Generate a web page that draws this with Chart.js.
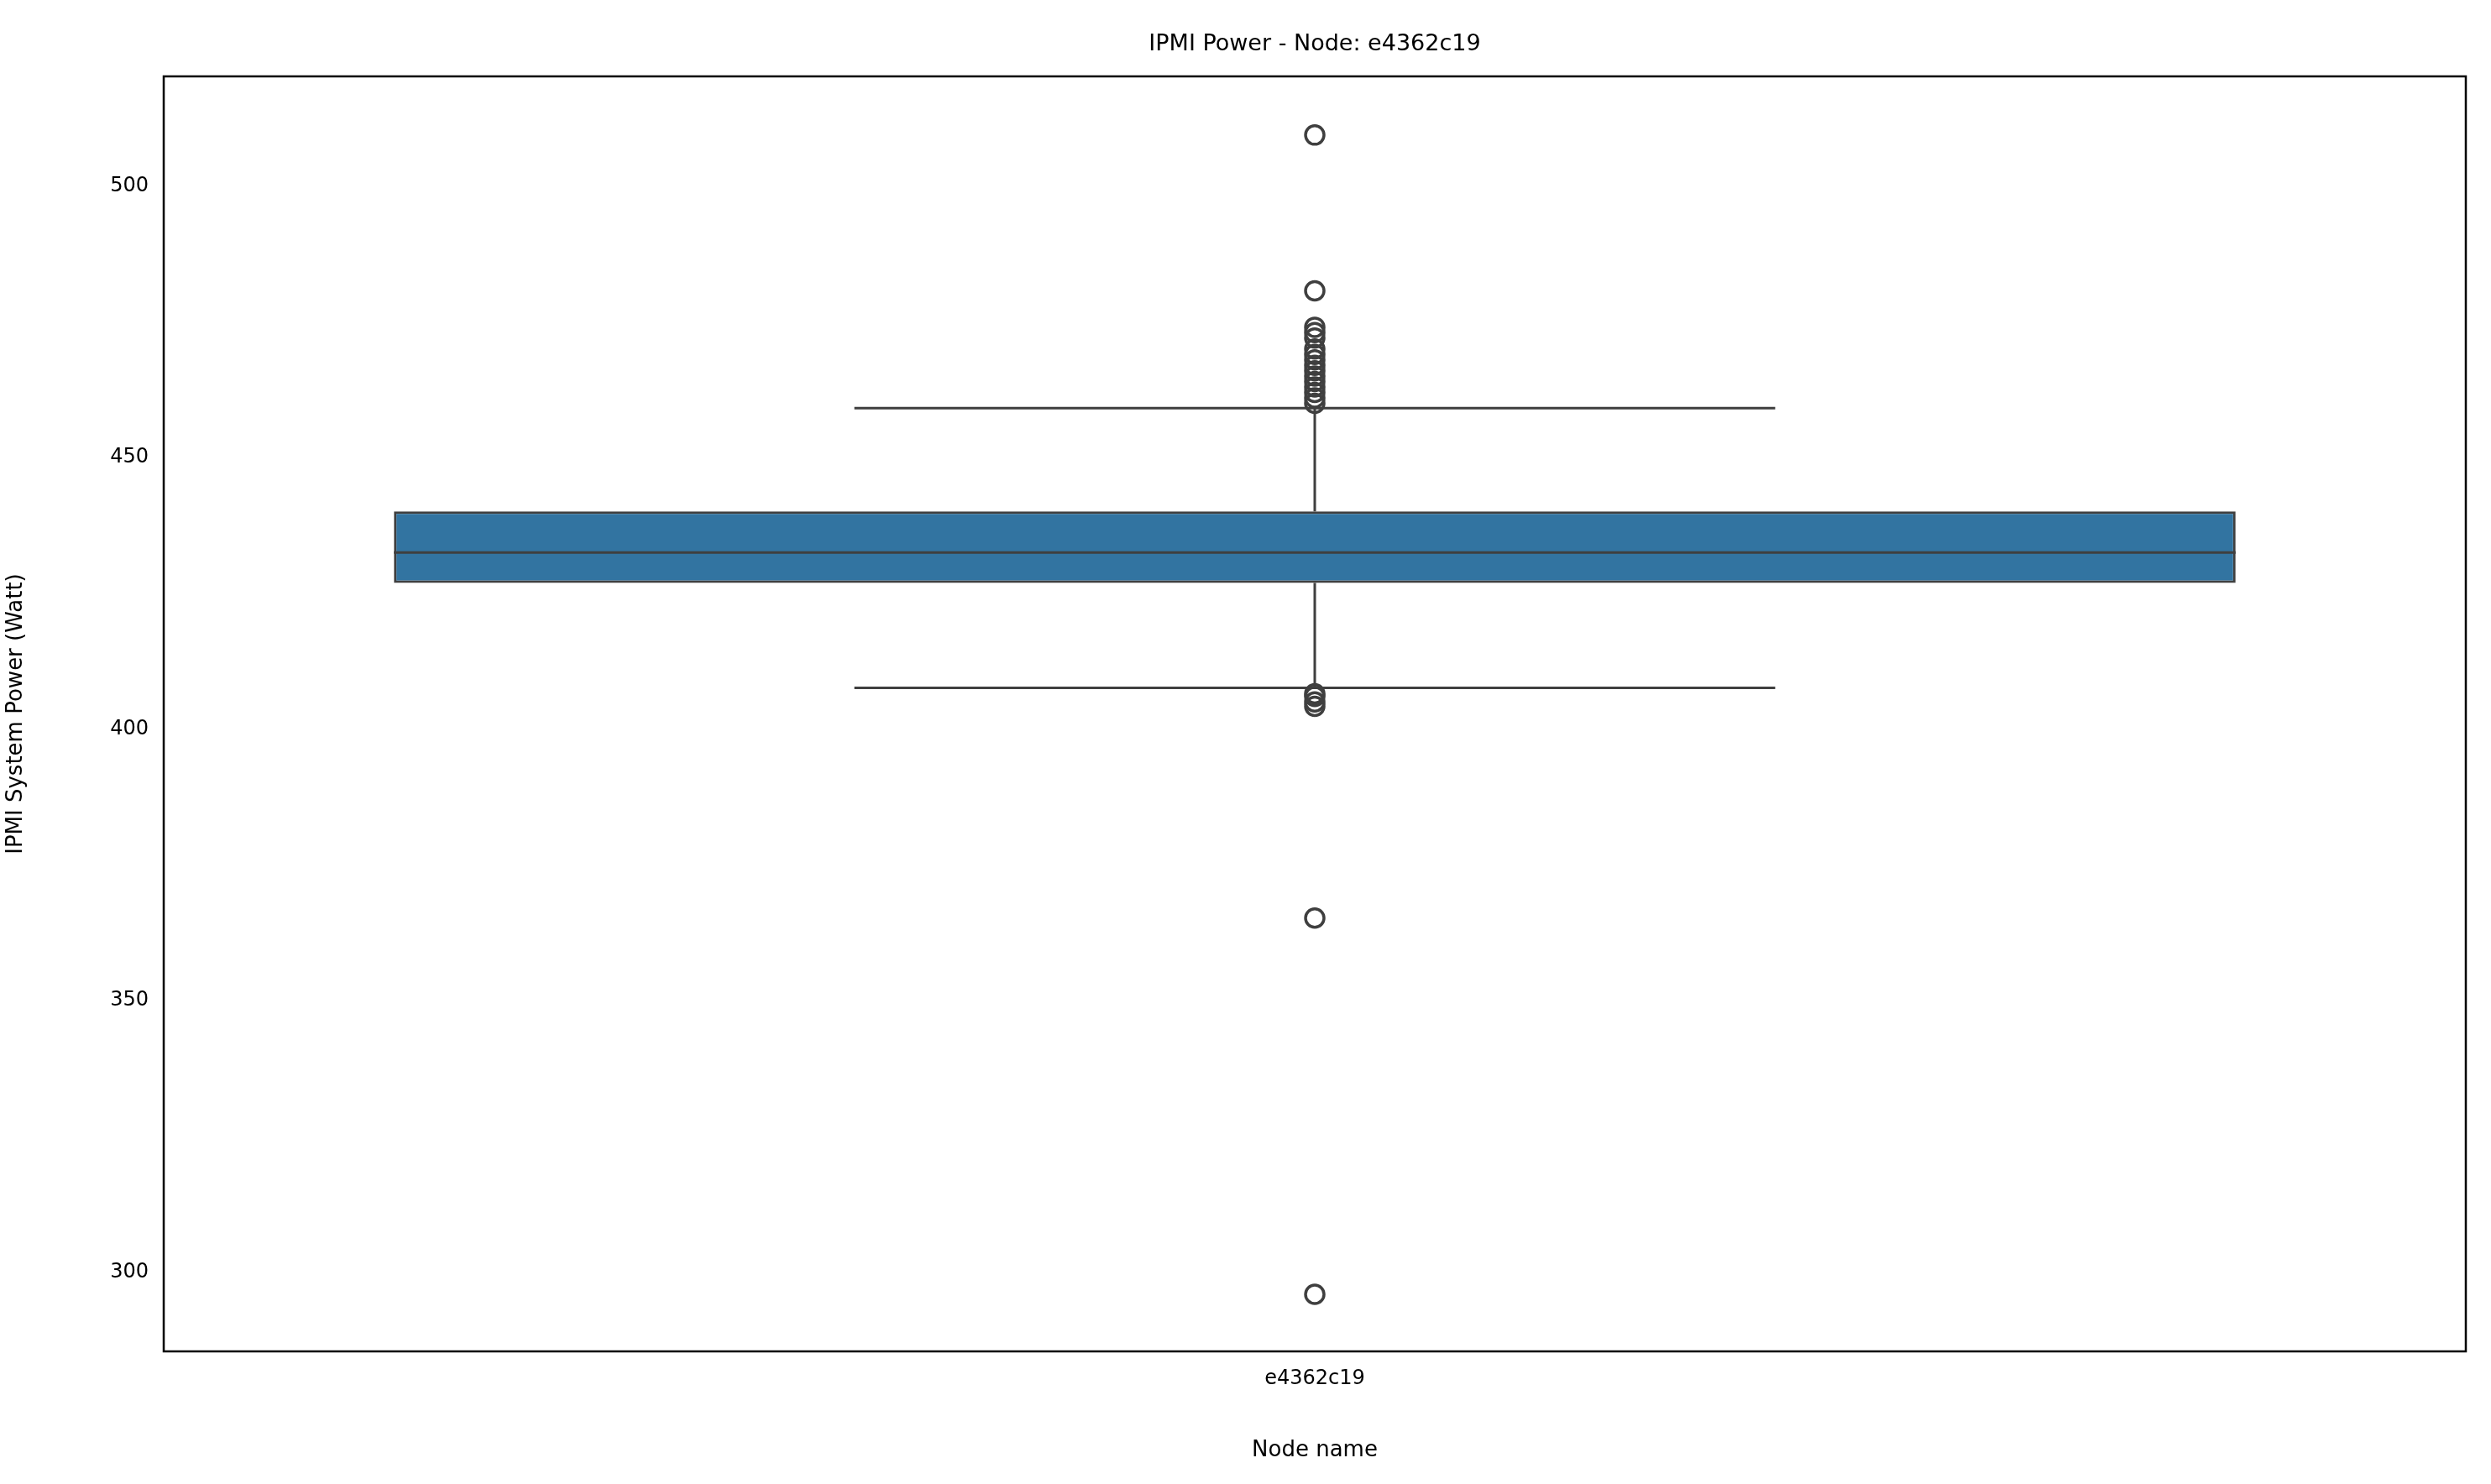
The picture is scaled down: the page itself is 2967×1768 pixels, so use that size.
<!DOCTYPE html>
<html><head><meta charset="utf-8">
<script src="https://cdn.jsdelivr.net/npm/chart.js@4/dist/chart.umd.min.js"></script>
<style>html,body{margin:0;padding:0;background:#fff}#w{width:2967px;height:1768px}</style>
</head><body><div id="w"><canvas id="c"></canvas></div>
<script>
const categories = ['e4362c19'];
const q1 = [426.9], median = [432.5], q3 = [440.1];
const whiskerLow = [407.6], whiskerHigh = [459.1];
const outliers = [509.4, 480.7, 474, 473, 472, 470, 469, 468, 467, 466, 465, 464, 463, 462, 461, 460, 406.5, 406, 405, 404.2, 365.2, 295.9];
const yTicks = [300, 350, 400, 450, 500];
const EDGE = '#3f3f3f';
const F = 'DejaVu Sans';

const boxPlugin = {
  id: 'box',
  afterDatasetsDraw(chart) {
    const ctx = chart.ctx, x = chart.scales.x, y = chart.scales.y, a = chart.chartArea;
    ctx.save();
    ctx.strokeStyle = EDGE; ctx.lineWidth = 3;
    categories.forEach((c, i) => {
      const cx = x.getPixelForValue(i);
      const bw = (a.right - a.left) / categories.length * 0.8;
      const cw = bw / 2;
      const yl = y.getPixelForValue(whiskerLow[i]), yh = y.getPixelForValue(whiskerHigh[i]);
      const yq1 = y.getPixelForValue(q1[i]), yq3 = y.getPixelForValue(q3[i]), ym = y.getPixelForValue(median[i]);
      ctx.beginPath();
      ctx.moveTo(cx, yq3); ctx.lineTo(cx, yh);
      ctx.moveTo(cx, yq1); ctx.lineTo(cx, yl);
      ctx.moveTo(cx - cw / 2, yh); ctx.lineTo(cx + cw / 2, yh);
      ctx.moveTo(cx - cw / 2, yl); ctx.lineTo(cx + cw / 2, yl);
      ctx.moveTo(cx - bw / 2, ym); ctx.lineTo(cx + bw / 2, ym);
      ctx.stroke();
    });
    ctx.strokeStyle = '#000'; ctx.lineWidth = 2.5;
    ctx.strokeRect(a.left, a.top, a.right - a.left, a.bottom - a.top);
    ctx.fillStyle = '#000'; ctx.font = `27px ${F}`; ctx.textAlign = 'center'; ctx.textBaseline = 'middle';
    ctx.fillText('IPMI Power - Node: e4362c19', (a.left + a.right) / 2, 53);
    ctx.restore();
  }
};

new Chart(document.getElementById('c'), {
  data: {
    labels: categories,
    datasets: [
      { type: 'bar', data: categories.map((c, i) => [q1[i], q3[i]]), backgroundColor: '#3274a1',
        borderColor: EDGE, borderWidth: 3, borderSkipped: false, barPercentage: 0.8, categoryPercentage: 1, order: 2 },
      { type: 'line', showLine: false, data: outliers.map(v => ({ x: categories[0], y: v })),
        pointRadius: 11, pointBorderWidth: 3.5, pointBorderColor: EDGE, pointBackgroundColor: 'rgba(0,0,0,0)', order: 1 }
    ]
  },
  options: {
    responsive: true, maintainAspectRatio: false, animation: false, devicePixelRatio: 1,
    layout: { padding: { top: 91, right: 30, left: 0, bottom: 20 } },
    plugins: { legend: { display: false }, tooltip: { enabled: false } },
    scales: {
      x: {
        grid: { display: false, drawTicks: true, tickLength: 10, tickColor: '#000' },
        border: { display: false },
        ticks: { color: '#000', font: { family: F, size: 24 }, padding: 8 },
        title: { display: true, text: 'Node name', color: '#000', font: { family: F, size: 26 } },
        afterFit(s) { s.height = 138; }
      },
      y: {
        min: 285.4, max: 520.2,
        afterBuildTicks(s) { s.ticks = yTicks.map(v => ({ value: v })); },
        grid: { display: false, drawTicks: true, tickLength: 10, tickColor: '#000' },
        border: { display: false },
        ticks: { color: '#000', font: { family: F, size: 24 }, padding: 8 },
        title: { display: true, text: 'IPMI System Power (Watt)', color: '#000', font: { family: F, size: 26 } },
        afterFit(s) { s.width = 195; }
      }
    }
  },
  plugins: [boxPlugin]
});
</script></body></html>
